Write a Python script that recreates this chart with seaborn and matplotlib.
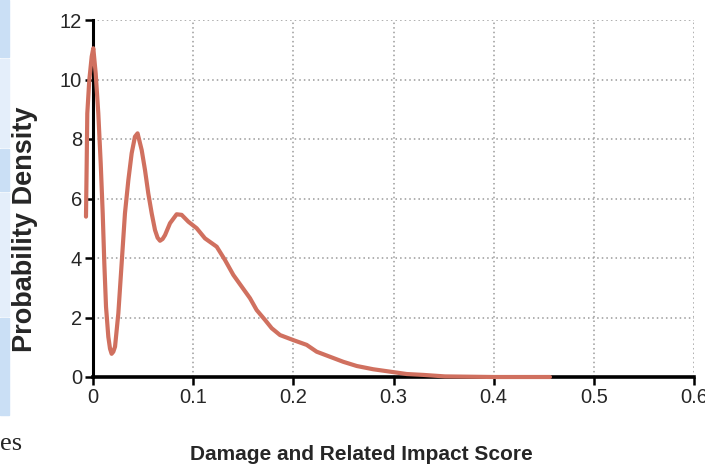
# kernel density curve of the damage / impact score
import numpy as np
import pandas as pd
import matplotlib
matplotlib.use("Agg")
import matplotlib.pyplot as plt
import seaborn as sns

# points
score = [-0.0070, -0.0063, -0.0057, -0.0037, -0.0013, 0.0003, 0.0027, 0.0053,
         0.0077, 0.0097, 0.0113, 0.0130, 0.0153, 0.0170, 0.0186, 0.0203, 0.0220, 0.0253,
         0.0286, 0.0319, 0.0353, 0.0386, 0.0419, 0.0445, 0.0486, 0.0519,
         0.0552, 0.0586, 0.0619, 0.0645, 0.0669, 0.0695, 0.0719, 0.0769, 0.0835, 0.0885,
         0.0952, 0.1035, 0.1118, 0.1235, 0.1318, 0.1401, 0.1484, 0.1567,
         0.1634, 0.1717, 0.1784, 0.1867, 0.2000, 0.2133, 0.2233, 0.2366,
         0.2499, 0.2633, 0.2798, 0.2965, 0.3132, 0.3300, 0.3514, 0.4000,
         0.4562]
density = [5.39, 7.18, 8.86, 9.98, 10.77, 11.05, 10.20, 8.86,
           7.18, 5.50, 3.82, 2.36, 1.35, 0.95, 0.78, 0.85, 1.02, 2.14,
           3.82, 5.50, 6.62, 7.52, 8.08, 8.19, 7.63, 6.96,
           6.17, 5.50, 4.94, 4.68, 4.58, 4.64, 4.77, 5.17, 5.47, 5.45,
           5.22, 5.00, 4.66, 4.38, 3.93, 3.43, 3.04, 2.65,
           2.25, 1.92, 1.64, 1.41, 1.24, 1.08, 0.85, 0.68,
           0.51, 0.37, 0.26, 0.18, 0.10, 0.07, 0.02, 0.0,
           0.0]
xticks = [0, 0.1, 0.2, 0.3, 0.4, 0.5, 0.6]
xtick_labels = ["0", "0.1", "0.2", "0.3", "0.4", "0.5", "0.6"]
yticks = [0, 2, 4, 6, 8, 10, 12]

df = pd.DataFrame({"score": score, "density": density})

sns.set_style("white")
plt.rcParams["font.family"] = ["Liberation Sans", "DejaVu Sans"]

fig = plt.figure(figsize=(7.05, 4.7), dpi=100)
ax = fig.add_axes([93 / 705, 1 - 377 / 470, 601 / 705, 357 / 470])

# grid first so the curve sits on top
ax.grid(True, color="#9a9a9a", linestyle=(0, (1, 2)), linewidth=1.1)
ax.set_axisbelow(True)

sns.lineplot(data=df, x="score", y="density", sort=False, estimator=None,
             color="#d0705f", linewidth=3.0, ax=ax, clip_on=False, zorder=5)

ax.set_xlim(0, 0.6)
ax.set_ylim(0, 12)
ax.set_xticks(xticks)
ax.set_xticklabels(xtick_labels)
ax.set_yticks(yticks)

# spines and ticks
for side in ["top", "right"]:
    ax.spines[side].set_visible(False)
ax.spines["left"].set_linewidth(2.2)
ax.spines["bottom"].set_linewidth(2.6)
ax.spines["left"].set_color("black")
ax.spines["bottom"].set_color("black")
ax.tick_params(axis="both", direction="out", length=6, width=1.8, color="black",
               labelsize=14.5, pad=2, left=True, bottom=True)

ax.set_xlabel("")
ax.set_ylabel("")
fig.text(361 / 705, 1 - 455 / 470, "Damage and Related Impact Score", fontsize=15,
         fontweight="bold", ha="center", va="center")
fig.text(25 / 705, 1 - 229 / 470, "Probability Density", fontsize=19.5, fontweight="bold",
         rotation=90, ha="center", va="center")

# bits of the surrounding page visible at the left edge
blocks = [(0, 57, "#cadff5"), (59, 147, "#e4eefa"), (149, 191, "#cadff5"),
          (193, 316, "#e4eefa"), (318, 415, "#cadff5")]
for top, bottom, colour in blocks:
    fig.patches.append(plt.Rectangle((0, 1 - bottom / 470), 9 / 705, (bottom - top) / 470,
                                     transform=fig.transFigure, color=colour, zorder=0))
fig.text(0, 1 - 450 / 470, "es", fontsize=19, family=["Liberation Serif", "DejaVu Serif"],
         ha="left", va="baseline")

fig.savefig("out.png", dpi=100)
